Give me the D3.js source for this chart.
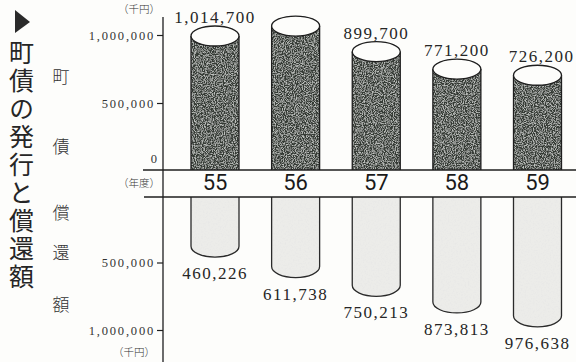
<!DOCTYPE html>
<html><head><meta charset="utf-8">
<script src="https://cdn.jsdelivr.net/npm/d3@7/dist/d3.min.js"></script>
<style>
html,body{margin:0;padding:0;background:#fdfdfb;}
svg{display:block;}
</style></head>
<body>
<svg id="c" width="576" height="362"></svg>
<script>
// ---- data ----
const years = ["55", "56", "57", "58", "59"];
const issuance = [1014700, 1088000, 899700, 771200, 726200];      // 町債 (千円)
const issuanceLabelShown = [true, false, true, true, true];
const redemption = [460226, 611738, 750213, 873813, 976638];     // 償還額 (千円)
const topTicks = [500000, 1000000];
const bottomTicks = [500000, 1000000];
const titleText = "町債の発行と償還額";
const topAxisChars = ["町", "債"];
const bottomAxisChars = ["償", "還", "額"];

const svg = d3.select("#c");
const W = 576, H = 362;
const fmt = d3.format(",");

// layout constants
const axisX = 163, bandTop = 170, bandBot = 197, barW = 48;

const x = d3.scalePoint().domain(years).range([215, 537.5]);
const yTop = d3.scaleLinear().domain([0, 1000000]).range([171, 35]);
const yBot = d3.scaleLinear().domain([0, 1000000]).range([195, 330]);

// ---- filters for speckled texture ----
const defs = svg.append("defs");
function speckle(id, seed, freq, rgb, k, b) {
  const f = defs.append("filter").attr("id", id).attr("x", 0).attr("y", 0).attr("width", 1).attr("height", 1);
  f.append("feTurbulence").attr("type", "fractalNoise").attr("baseFrequency", freq)
    .attr("numOctaves", 2).attr("seed", seed).attr("result", "n");
  f.append("feColorMatrix").attr("in", "n").attr("type", "matrix")
    .attr("values", `0 0 0 0 ${rgb[0]}  0 0 0 0 ${rgb[1]}  0 0 0 0 ${rgb[2]}  ${k} 0 0 0 ${b}`)
    .attr("result", "s");
  f.append("feComposite").attr("in", "s").attr("in2", "SourceGraphic").attr("operator", "in").attr("result", "s2");
  const m = f.append("feMerge");
  m.append("feMergeNode").attr("in", "SourceGraphic");
  m.append("feMergeNode").attr("in", "s2");
}
speckle("spDark", 4, 0.9, [0.52, 0.54, 0.52], 3.0, -1.25);
speckle("spLight", 9, 0.6, [0.80, 0.80, 0.79], 2.5, -1.15);

// ---- left title ----
svg.append("path").attr("d", "M15,10 L30,22 L15,33 Z").attr("fill", "#2a2a2a");
svg.append("text").attr("x", 21.5).attr("y", 40)
  .style("writing-mode", "vertical-rl").style("text-orientation", "upright")
  .style("font-family", "'Noto Sans CJK JP', sans-serif").style("font-size", "25px").style("letter-spacing", "3px")
  .attr("fill", "#262626").text(titleText);

// axis side labels
svg.append("g").selectAll("text").data(topAxisChars).join("text")
  .attr("x", 61).attr("y", (d, i) => [77, 147][i]).attr("dy", "0.36em").attr("text-anchor", "middle")
  .style("font-family", "'Noto Sans CJK JP', sans-serif").style("font-size", "17px").style("font-weight", 300)
  .attr("fill", "#333").text(d => d);
svg.append("g").selectAll("text").data(bottomAxisChars).join("text")
  .attr("x", 61).attr("y", (d, i) => [213, 253, 305][i]).attr("dy", "0.36em").attr("text-anchor", "middle")
  .style("font-family", "'Noto Sans CJK JP', sans-serif").style("font-size", "17px").style("font-weight", 300)
  .attr("fill", "#333").text(d => d);

// ---- top bars (町債) ----
const ry = 10;
const gTop = svg.append("g");
years.forEach((yr, i) => {
  const cx = x(yr), x0 = cx - barW / 2, x1 = cx + barW / 2;
  const cy = yTop(issuance[i]) + 3;
  gTop.append("path")
    .attr("d", `M${x0},${bandTop} L${x0},${cy} A${barW/2},${ry} 0 0 1 ${x1},${cy} L${x1},${bandTop} Z`)
    .attr("fill", "#363a36").attr("filter", "url(#spDark)");
  gTop.append("path")
    .attr("d", `M${x0},${bandTop} L${x0},${cy} M${x1},${cy} L${x1},${bandTop}`)
    .attr("fill", "none").attr("stroke", "#1e1e1e").attr("stroke-width", 1.3);
  gTop.append("ellipse").attr("cx", cx).attr("cy", cy).attr("rx", barW / 2).attr("ry", ry)
    .attr("fill", "#fdfdfb").attr("stroke", "#1e1e1e").attr("stroke-width", 1.3);
  if (issuanceLabelShown[i]) {
    gTop.append("text").attr("x", cx + (i === 4 ? 4 : 0)).attr("y", cy - 19).attr("dy", "0.36em")
      .attr("text-anchor", "middle")
      .style("font-family", "'Liberation Serif', serif").style("font-size", "17px").style("letter-spacing", "1.5px")
      .attr("fill", "#262626").text(fmt(issuance[i]));
  }
});

// ---- bottom bars (償還額) ----
const gBot = svg.append("g");
const rb = 11;
years.forEach((yr, i) => {
  const cx = x(yr), x0 = cx - barW / 2, x1 = cx + barW / 2;
  const yb = yBot(redemption[i]);
  const d = `M${x0},${bandBot} L${x0},${yb - rb} A${barW/2},${rb} 0 0 0 ${x1},${yb - rb} L${x1},${bandBot}`;
  gBot.append("path").attr("d", d + " Z").attr("fill", "#ecece9").attr("filter", "url(#spLight)");
  gBot.append("path").attr("d", d).attr("fill", "none").attr("stroke", "#2a2a2a").attr("stroke-width", 1.3);
  gBot.append("text").attr("x", cx).attr("y", yb + 16).attr("dy", "0.36em").attr("text-anchor", "middle")
    .style("font-family", "'Liberation Serif', serif").style("font-size", "17px").style("letter-spacing", "1.5px")
    .attr("fill", "#262626").text(fmt(redemption[i]));
});

// ---- year band ----
svg.append("rect").attr("x", 143).attr("y", bandTop).attr("width", W - 143).attr("height", bandBot - bandTop)
  .attr("fill", "#fdfdfb");
svg.append("line").attr("x1", 143).attr("x2", W).attr("y1", bandTop).attr("y2", bandTop)
  .attr("stroke", "#1e1e1e").attr("stroke-width", 1.5);
svg.append("line").attr("x1", 144).attr("x2", W).attr("y1", bandBot).attr("y2", bandBot)
  .attr("stroke", "#1e1e1e").attr("stroke-width", 1.5);
svg.append("g").selectAll("text").data(years).join("text")
  .attr("x", d => x(d)).attr("y", 182).attr("dy", "0.36em").attr("text-anchor", "middle")
  .style("font-family", "Roboto, 'Liberation Sans', sans-serif").style("font-size", "22px").style("font-weight", 400)
  .attr("fill", "#1a1a1a").text(d => d);

// ---- axes ----
svg.append("line").attr("x1", axisX).attr("x2", axisX).attr("y1", 17).attr("y2", H)
  .attr("stroke", "#1e1e1e").attr("stroke-width", 1.3);

function styleAxis(g) {
  g.select(".domain").remove();
  g.selectAll(".tick line").attr("stroke", "#1e1e1e").attr("stroke-width", 1.2);
  g.selectAll(".tick text").attr("fill", "#333")
    .style("font-family", "'Liberation Serif', serif").style("font-size", "12.5px").style("letter-spacing", "1.8px");
}
svg.append("g").attr("transform", `translate(${axisX},0)`)
  .call(d3.axisLeft(yTop).tickValues(topTicks).tickFormat(fmt).tickSize(6).tickPadding(2))
  .call(styleAxis);
svg.append("g").attr("transform", `translate(${axisX},0)`)
  .call(d3.axisLeft(yBot).tickValues(bottomTicks).tickFormat(fmt).tickSize(6).tickPadding(2))
  .call(styleAxis);

// zero label (sits above the band)
svg.append("text").attr("x", 157).attr("y", yTop(0) - 13).attr("dy", "0.36em").attr("text-anchor", "end")
  .style("font-family", "'Liberation Serif', serif").style("font-size", "12.5px").attr("fill", "#333").text("0");

// unit labels
const unitStyle = s => s.style("font-family", "'Noto Sans CJK JP', sans-serif").style("font-size", "10.5px")
  .style("font-weight", 300).attr("fill", "#333").attr("text-anchor", "end").attr("dy", "0.36em");
svg.append("text").attr("x", 160).attr("y", 9).text("（千円）").call(unitStyle);
svg.append("text").attr("x", 160).attr("y", 183).text("（年度）").call(unitStyle);
svg.append("text").attr("x", 155).attr("y", 352).text("（千円）").call(unitStyle);
</script>
</body></html>
